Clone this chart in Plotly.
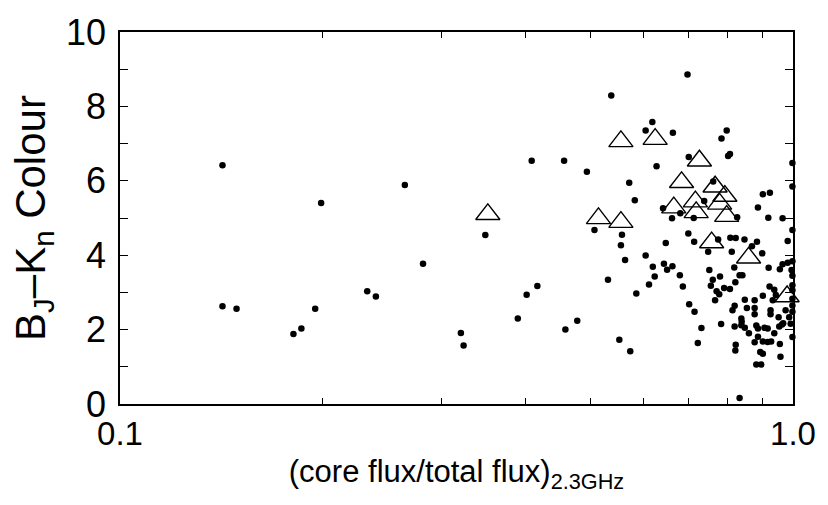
import plotly.graph_objects as go

# Filled circles: core-flux fraction and B_J-K_n colour
dot_x = [0.142, 0.265, 0.199, 0.349, 0.282, 0.233, 0.240, 0.142, 0.149, 0.195,
         0.181, 0.186, 0.321, 0.324, 0.402, 0.417, 0.390, 0.478, 0.459, 0.409,
         0.457, 0.494, 0.537, 0.697, 0.618, 0.604, 0.663, 0.797, 0.783, 0.700,
         0.801, 0.806, 0.998, 0.627, 0.571, 0.761, 0.998, 0.902, 0.924, 0.582,
         0.738, 0.641, 0.887, 0.680, 0.661, 0.712, 0.826, 0.919, 0.965, 0.507,
         0.998, 0.557, 0.699, 0.555, 0.647, 0.713, 0.774, 0.807, 0.822, 0.847,
         0.884, 0.982, 0.869, 0.748, 0.811, 0.900, 0.563, 0.604, 0.619, 0.643,
         0.650, 0.662, 0.531, 0.623, 0.611, 0.585, 0.679, 0.686, 0.701, 0.714,
         0.751, 0.779, 0.760, 0.818, 0.833, 0.841, 0.821, 0.755, 0.790, 0.806,
         0.770, 0.777, 0.766, 0.920, 0.923, 0.938, 0.933, 0.902, 0.965, 0.982,
         0.998, 0.956, 0.995, 0.998, 0.998, 0.998, 0.998, 0.998, 0.848, 0.877,
         0.819, 0.854, 0.877, 0.813, 0.926, 0.926, 0.952, 0.975, 0.987, 0.838,
         0.877, 0.782, 0.819, 0.838, 0.848, 0.860, 0.882, 0.887, 0.907, 0.917,
         0.938, 0.954, 0.963, 0.967, 0.998, 0.731, 0.722, 0.822, 0.821, 0.877,
         0.887, 0.902, 0.917, 0.928, 0.894, 0.902, 0.956, 0.958, 0.882, 0.897,
         0.833, 0.552, 0.573, 0.943, 0.992, 0.998, 0.839]
dot_y = [6.42, 5.89, 5.40, 4.54, 3.77, 3.03, 2.89, 2.63, 2.56, 2.56,
         1.88, 2.03, 1.91, 1.57, 2.94, 3.17, 2.30, 2.24, 2.00, 6.54,
         6.54, 6.24, 8.29, 8.86, 7.58, 7.35, 7.29, 7.35, 7.14, 6.64,
         6.67, 6.72, 6.48, 6.39, 5.95, 5.98, 5.85, 5.64, 5.68, 5.48,
         5.46, 5.26, 5.28, 5.13, 4.99, 5.00, 5.02, 5.01, 4.99, 4.68,
         4.68, 4.55, 4.58, 4.27, 4.33, 4.36, 4.42, 4.47, 4.46, 4.42,
         4.36, 4.38, 4.24, 4.09, 4.09, 4.05, 3.87, 3.99, 3.69, 3.77,
         3.61, 3.70, 3.34, 3.43, 3.21, 2.97, 3.46, 3.16, 2.68, 2.48,
         3.60, 3.43, 3.34, 3.67, 3.46, 3.46, 3.27, 3.18, 3.12, 3.09,
         3.03, 2.95, 2.79, 3.66, 3.16, 3.07, 2.79, 2.91, 3.76, 3.80,
         3.84, 3.62, 3.60, 3.45, 3.06, 2.83, 2.65, 2.48, 2.80, 2.79,
         2.64, 2.58, 2.58, 2.52, 2.52, 2.41, 2.33, 2.52, 2.33, 2.30,
         2.41, 2.15, 2.08, 2.12, 2.05, 1.90, 2.11, 2.03, 2.05, 2.03,
         1.90, 2.08, 2.14, 2.17, 1.80, 2.04, 1.64, 1.59, 1.44, 1.66,
         1.81, 1.68, 1.67, 1.68, 1.40, 1.35, 1.61, 1.27, 1.06, 1.06,
         0.16, 1.73, 1.42, 2.93, 2.16, 3.19, 2.21]

# Open triangles
tri_x = [0.352, 0.555, 0.624, 0.726, 0.683, 0.766, 0.792, 0.716, 0.778,
         0.665, 0.718, 0.797, 0.514, 0.555, 0.757, 0.859, 0.980]
tri_y = [5.10, 7.06, 7.12, 6.54, 5.96, 5.84, 5.59, 5.44, 5.38,
         5.28, 5.15, 5.05, 4.99, 4.89, 4.34, 3.93, 2.89]

x_tickvals = [0.1, 0.2, 0.3, 0.4, 0.5, 0.6, 0.7, 0.8, 0.9, 1.0]
x_ticktext = ["0.1", "", "", "", "", "", "", "", "", "1.0"]
y_tickvals = [0, 1, 2, 3, 4, 5, 6, 7, 8, 9, 10]
y_ticktext = ["0", "", "2", "", "4", "", "6", "", "8", "", "10"]

FONT = "Arial, 'Liberation Sans', Helvetica, sans-serif"

fig = go.Figure()
fig.add_trace(go.Scatter(
    x=dot_x, y=dot_y, mode="markers",
    marker=dict(symbol="circle", size=6.5, color="black", line=dict(width=0)),
    showlegend=False, cliponaxis=False))
fig.add_trace(go.Scatter(
    x=tri_x, y=tri_y, mode="markers",
    marker=dict(symbol="triangle-up-open", size=21, color="black",
                line=dict(width=1.4, color="black")),
    showlegend=False, cliponaxis=False))

axis_common = dict(
    showgrid=False, zeroline=False, showline=True, linecolor="black",
    linewidth=1.5, ticks="inside", tickcolor="black", tickwidth=1,
    mirror="ticks",
)

fig.update_layout(
    width=828, height=505,
    margin=dict(l=120, r=27, t=26, b=101),
    paper_bgcolor="white", plot_bgcolor="white",
    font=dict(family=FONT, color="black"),
    xaxis=dict(
        type="log", range=[-1, 0], tickmode="array",
        tickvals=x_tickvals, ticktext=x_ticktext, ticklen=6,
        tickfont=dict(family=FONT, size=33, color="black"),
        title=dict(text="(core flux/total flux)<sub>2.3GHz</sub>",
                   font=dict(family=FONT, size=31, color="black"), standoff=9),
        **axis_common),
    yaxis=dict(
        range=[0, 10], tickmode="array",
        tickvals=y_tickvals, ticktext=y_ticktext, ticklen=8,
        ticklabelstandoff=5,
        tickfont=dict(family=FONT, size=36, color="black"),
        title=dict(text="B<sub>J</sub>–K<sub>n</sub> Colour",
                   font=dict(family=FONT, size=42, color="black"), standoff=7),
        **axis_common),
)

fig.write_html("out.html")
